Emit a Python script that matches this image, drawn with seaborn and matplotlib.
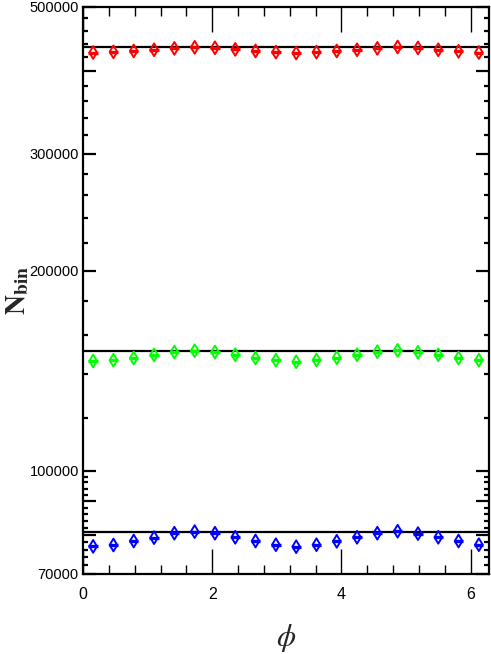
import numpy as np
import matplotlib
matplotlib.use("Agg")
import matplotlib.pyplot as plt
import seaborn as sns
import pandas as pd
from matplotlib.ticker import NullFormatter

# ---- data ----
phi_centers = [0.157, 0.471, 0.785, 1.100, 1.414, 1.728, 2.042, 2.356, 2.670, 2.985,
               3.299, 3.613, 3.927, 4.241, 4.555, 4.869, 5.184, 5.498, 5.812, 6.126]
n_red = [426500, 427500, 428800, 430600, 432700, 434300, 433600, 431200, 428800, 427100,
         425800, 427100, 428800, 430600, 432700, 434800, 433400, 430600, 428300, 426500]
n_green = [146300, 146700, 147800, 149400, 150900, 151600, 150900, 149500, 147800, 146700,
           145900, 146800, 148000, 149500, 151100, 151800, 150800, 149500, 147800, 146700]
n_blue = [76910, 77270, 78350, 79270, 80500, 80950, 80500, 79370, 78350, 77350,
          76820, 77350, 78270, 79370, 80500, 81060, 80390, 79370, 78350, 77350]
fit_levels = [434300, 151600, 80800]
series_names = ["red", "green", "blue"]
series_colors = ["#ff0000", "#00ff00", "#0000ff"]
y_major_ticks = [70000, 80000, 90000, 100000, 200000, 300000, 400000, 500000]
y_tick_labels = ["70000", "", "", "100000", "200000", "300000", "", "500000"]
x_major_ticks = [0, 2, 4, 6]
x_tick_labels = ["0", "2", "4", "6"]

df = pd.DataFrame({
    "phi": phi_centers * 3,
    "N": n_red + n_green + n_blue,
    "series": sum([[s] * len(phi_centers) for s in series_names], []),
})

sns.set_style("ticks")
plt.rcParams["font.family"] = ["Liberation Sans", "DejaVu Sans"]
plt.rcParams["mathtext.fontset"] = "stix"

fig = plt.figure(figsize=(4.91, 6.54), dpi=100)
ax = fig.add_axes([83 / 491, 1 - 573.5 / 654, 406 / 491, 566.8 / 654])

for level in fit_levels:
    ax.axhline(level, color="black", lw=1.6, zorder=1)

for name, col in zip(series_names, series_colors):
    sub = df[df["series"] == name]
    ax.errorbar(sub["phi"], sub["N"], xerr=0.072, fmt="none", ecolor=col,
                elinewidth=2.4, capsize=0, zorder=2)
    sns.scatterplot(data=sub, x="phi", y="N", ax=ax, marker="d", s=42,
                    color=col, facecolor="none", edgecolor=col, linewidth=1.4,
                    legend=False, zorder=3)

ax.set_yscale("log")
ax.set_xlim(0, 6.2832)
ax.set_ylim(70000, 500000)

ax.set_yticks(y_major_ticks)
ax.set_yticklabels(y_tick_labels)
minor_y = [v for v in list(range(72000, 100000, 2000)) + list(range(120000, 500000, 20000))
           if v not in y_major_ticks]
ax.set_yticks(minor_y, minor=True)
ax.yaxis.set_minor_formatter(NullFormatter())

ax.set_xticks(x_major_ticks)
ax.set_xticklabels(x_tick_labels)
minor_x = [v for v in np.round(np.arange(0.4, 6.2, 0.4), 2) if v not in x_major_ticks]
ax.set_xticks(minor_x, minor=True)

ax.tick_params(which="both", direction="in", top=True, right=True, labelsize=10.5,
               colors="black")
ax.tick_params(axis="x", which="major", length=18, width=1.0, pad=10, labelsize=11.5)
ax.tick_params(axis="x", which="minor", length=6.5, width=1.0)
ax.tick_params(axis="y", which="major", length=9.5, width=1.6, pad=3)
ax.tick_params(axis="y", which="minor", length=3.8, width=1.6)

for sp in ax.spines.values():
    sp.set_linewidth(1.6)
    sp.set_color("black")

ax.set_ylabel(r"$\mathbf{N}_{\mathbf{bin}}$", fontsize=20)
ax.yaxis.set_label_coords(-0.128, 0.5)
ax.set_xlabel(r"$\phi$", fontsize=22)
ax.xaxis.set_label_coords(0.5, -0.085)

fig.savefig("out.png", dpi=100)
